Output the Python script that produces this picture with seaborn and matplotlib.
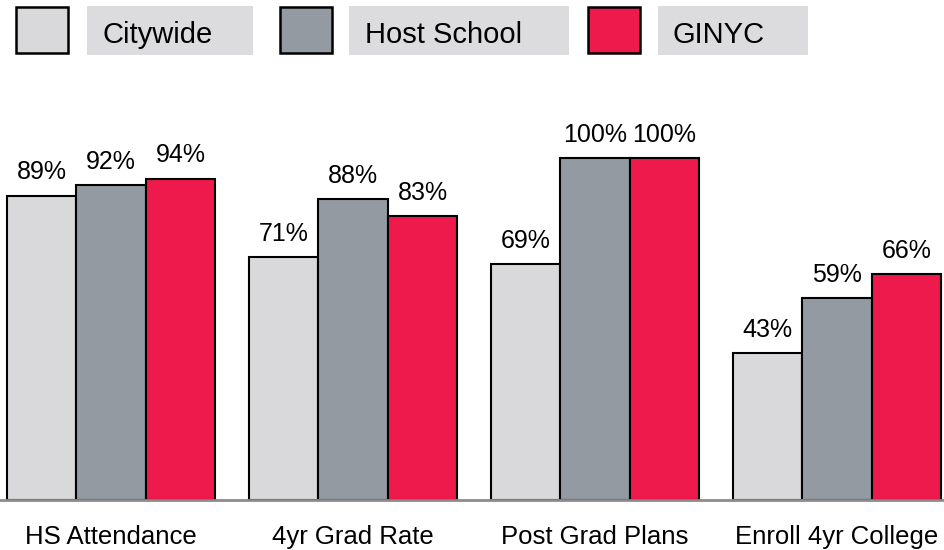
import seaborn as sns
import matplotlib.pyplot as plt
import pandas as pd
from matplotlib.patches import Rectangle

# data
categories = ['HS Attendance', '4yr Grad Rate', 'Post Grad Plans', 'Enroll 4yr College']
groups = ['Citywide', 'Host School', 'GINYC']
citywide = [89, 71, 69, 43]
host_school = [92, 88, 100, 59]
ginyc = [94, 83, 100, 66]
colors = ['#d9d9db', '#939aa1', '#ee1a4b']

df = pd.DataFrame({
    'category': categories * 3,
    'group': [g for g in groups for _ in categories],
    'value': citywide + host_school + ginyc,
})

sns.set_style('white')
plt.rcParams['font.family'] = ['Liberation Sans', 'DejaVu Sans']
plt.rcParams['text.color'] = 'black'
plt.rcParams['xtick.color'] = 'black'

fig = plt.figure(figsize=(9.45, 5.5), dpi=100)
ax = fig.add_axes([0, 50 / 550, 1, 440 / 550])

sns.barplot(data=df, x='category', y='value', hue='group', order=categories,
            hue_order=groups, palette=colors, saturation=1, width=0.86, gap=0,
            edgecolor='black', linewidth=1.5, legend=False, ax=ax)

for cont in ax.containers:
    ax.bar_label(cont, fmt='%d%%', padding=8, fontsize=18, color='black')

ax.set_xlim(-0.459, 3.446)
ax.set_ylim(0, 128.65)
ax.set_xlabel('')
ax.set_ylabel('')
ax.set_yticks([])
ax.tick_params(axis='x', length=0, pad=18, labelsize=18.5, labelcolor='black')
for s in ['top', 'left', 'right']:
    ax.spines[s].set_visible(False)
ax.spines['bottom'].set_color('#8c8c8c')
ax.spines['bottom'].set_linewidth(2)

# legend drawn by hand: colour box + label on grey panel
W, H = 945, 550
box_x = [16, 280, 588]
txt_bg = [(87, 253), (349, 569), (658, 808)]
txt_x = [103, 365, 673]
for i, g in enumerate(groups):
    fig.add_artist(Rectangle((box_x[i] / W, 1 - 53 / H), 52 / W, 46 / H,
                             transform=fig.transFigure, facecolor=colors[i],
                             edgecolor='black', linewidth=1.8))
    x0, x1 = txt_bg[i]
    fig.add_artist(Rectangle((x0 / W, 1 - 55 / H), (x1 - x0) / W, 49 / H,
                             transform=fig.transFigure, facecolor='#dcdcde',
                             edgecolor='none'))
    fig.text(txt_x[i] / W, 1 - 43 / H, g, fontsize=21, va='baseline', ha='left')

fig.savefig('out.png', dpi=100)
